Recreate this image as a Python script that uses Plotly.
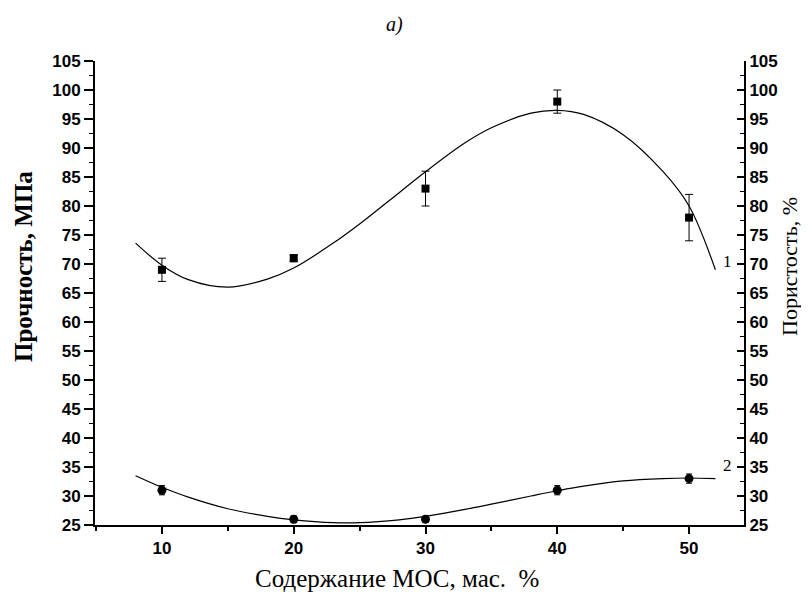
import plotly.graph_objects as go

# measured points
x_pts = [10, 20, 30, 40, 50]
strength = [69, 71, 83, 98, 78]
strength_err = [2, 0.6, 3, 2, 4]
porosity = [31, 26, 26, 31, 33]
porosity_err = [0.8, 0.6, 0.5, 0.8, 0.8]

# smooth fitted curves
curve_x = [8, 10, 12, 15, 18, 20, 23, 25, 28, 30, 33, 35, 38, 40, 42, 45, 48, 50, 52]
curve1_y = [73.6, 69.8, 67.3, 66.0, 67.4, 69.3, 73.6, 76.9, 82.3, 85.9, 90.9, 93.5, 96.0, 96.5, 95.8, 92.3, 86.0, 80.0, 69.0]
curve2_y = [33.5, 31.5, 29.8, 27.8, 26.5, 25.9, 25.4, 25.4, 25.9, 26.5, 27.7, 28.6, 30.0, 30.9, 31.7, 32.6, 33.0, 33.1, 33.0]

x_ticks = [10, 20, 30, 40, 50]
y_ticks = list(range(25, 106, 5))

fig = go.Figure()

fig.add_trace(go.Scatter(x=curve_x, y=curve1_y, mode="lines", line=dict(color="black", width=1.2, shape="spline"),
                         showlegend=False, hoverinfo="skip"))
fig.add_trace(go.Scatter(x=curve_x, y=curve2_y, mode="lines", line=dict(color="black", width=1.2, shape="spline"),
                         showlegend=False, hoverinfo="skip"))
fig.add_trace(go.Scatter(x=x_pts, y=strength, mode="markers",
                         marker=dict(symbol="square", size=8, color="black"),
                         error_y=dict(type="data", array=strength_err, color="black", thickness=1, width=4),
                         showlegend=False))
fig.add_trace(go.Scatter(x=x_pts, y=porosity, mode="markers",
                         marker=dict(symbol="circle", size=9, color="black"),
                         error_y=dict(type="data", array=porosity_err, color="black", thickness=1, width=3),
                         showlegend=False))
# dummy trace for right axis
fig.add_trace(go.Scatter(x=[None], y=[None], yaxis="y2", showlegend=False, hoverinfo="skip"))

tickfont = dict(family="Liberation Sans", size=17, color="black", weight="bold")
serif = "Liberation Serif"

# page body has an 8px margin; plot area in screen pixels
OFF = 8
W, H = 809 - OFF, 595 - OFF
L, R, T, B = 95, 744, 61, 525


def px(xp):
    return (xp - L) / (R - L)


def py(yp):
    return (B - yp) / (B - T)


fig.update_layout(
    width=W, height=H,
    margin=dict(l=L - OFF, r=W - (R - OFF), t=T - OFF, b=H - (B - OFF), pad=0),
    plot_bgcolor="white", paper_bgcolor="white",
    xaxis=dict(range=[4.92, 54.17], tickvals=x_ticks, ticks="outside", ticklen=7, tickwidth=1.5,
               tickcolor="black", showline=True, linecolor="black", linewidth=2, showgrid=False,
               zeroline=False, tickfont=tickfont, automargin=False,
               minor=dict(dtick=5, tick0=5, ticks="outside", ticklen=4, tickcolor="black", tickwidth=1.5)),
    yaxis=dict(range=[25, 105], tickvals=y_ticks, ticks="outside", ticklen=9, tickwidth=1.5,
               tickcolor="black", showline=True, linecolor="black", linewidth=2, showgrid=False,
               zeroline=False, tickfont=tickfont, automargin=False,
               minor=dict(dtick=2.5, ticks="outside", ticklen=4, tickcolor="black", tickwidth=1.2)),
    yaxis2=dict(range=[25, 105], tickvals=y_ticks, overlaying="y", side="right", ticks="inside",
                ticklen=7, tickwidth=1.5, tickcolor="black", showline=True, linecolor="black", linewidth=2,
                showgrid=False, zeroline=False, tickfont=tickfont, automargin=False,
                minor=dict(dtick=2.5, ticks="inside", ticklen=4, tickcolor="black", tickwidth=1.2)),
    annotations=[
        dict(text="<i>a)</i>", x=px(394), y=py(25), xref="paper", yref="paper", showarrow=False,
             xanchor="center", yanchor="middle", font=dict(family=serif, size=20, color="black")),
        dict(text="Содержание МОС, мас.\u00a0 %", x=px(397), y=py(578), xref="paper", yref="paper",
             showarrow=False, xanchor="center", yanchor="middle",
             font=dict(family=serif, size=25, color="black")),
        dict(text="Прочность, МПа", x=px(23), y=py(267), xref="paper", yref="paper", textangle=-90,
             showarrow=False, xanchor="center", yanchor="middle",
             font=dict(family=serif, size=25, color="black", weight="bold")),
        dict(text="Пористость, %", x=px(789), y=py(267), xref="paper", yref="paper", textangle=-90,
             showarrow=False, xanchor="center", yanchor="middle",
             font=dict(family=serif, size=22, color="black")),
        dict(text="1", x=52.9, y=70.5, xref="x", yref="y", showarrow=False,
             font=dict(family=serif, size=17, color="black")),
        dict(text="2", x=52.9, y=35.2, xref="x", yref="y", showarrow=False,
             font=dict(family=serif, size=17, color="black")),
    ],
)

fig.write_html("out.html")
